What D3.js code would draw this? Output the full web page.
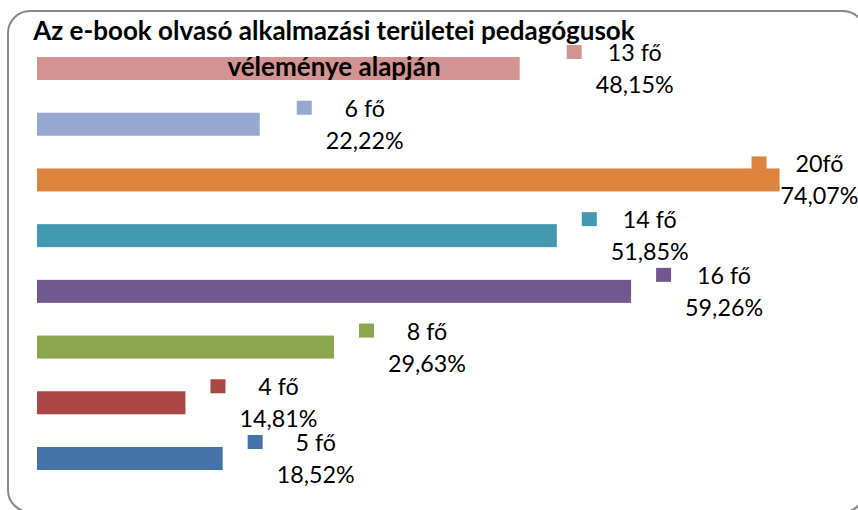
<!DOCTYPE html>
<html>
<head>
<meta charset="utf-8">
<script src="https://cdn.jsdelivr.net/npm/d3@7"></script>
<style>
  html, body { margin: 0; padding: 0; background: #ffffff; }
  svg { display: block; }
  text { font-family: Lato, "Open Sans", sans-serif; fill: #000; }
</style>
</head>
<body>
<svg id="chart" width="858" height="510"></svg>
<script>
// ---- data ----
const categories = ["k1", "k2", "k3", "k4", "k5", "k6", "k7", "k8"];
const counts = [13, 6, 20, 14, 16, 8, 4, 5];
const percents = [48.15, 22.22, 74.07, 51.85, 59.26, 29.63, 14.81, 18.52];
const countLabels = ["13 fő", "6 fő", "20fő", "14 fő", "16 fő", "8 fő", "4 fő", "5 fő"];
const colors = ["#D39391", "#95A9D0", "#DC843F", "#4399B0", "#71588F", "#8CA64E", "#AA4643", "#4572A7"];
const titleLines = ["Az e-book olvasó alkalmazási területei pedagógusok", "véleménye alapján"];

// ---- layout ----
const W = 858, H = 510;
const labelNudge = [22, 12, -53, 0, 0, 0, 0, 0]; // manual label shifts (px)
const svg = d3.select("#chart");

svg.append("rect")
  .attr("x", 8).attr("y", 11)
  .attr("width", 857).attr("height", 501)
  .attr("rx", 22).attr("ry", 22)
  .attr("fill", "#fff")
  .attr("stroke", "#888888")
  .attr("stroke-width", 2);

const x = d3.scaleLinear().domain([0, 80]).range([37, 839]);
const y = d3.scaleBand().domain(categories).range([57, 470]).paddingInner(0.587).paddingOuter(0);

const rows = categories.map((c, i) => ({
  cat: c, count: counts[i], pct: percents[i], lab: countLabels[i], color: colors[i], nudge: labelNudge[i]
}));

svg.append("g").selectAll("rect")
  .data(rows).join("rect")
  .attr("x", x(0))
  .attr("y", d => y(d.cat))
  .attr("width", d => x(d.pct) - x(0))
  .attr("height", y.bandwidth())
  .attr("fill", d => d.color);

// font fitting helper
function fitSize(str, weight, targetW) {
  const t = svg.append("text").attr("font-size", 100).attr("font-weight", weight).text(str);
  const w = t.node().getComputedTextLength();
  t.remove();
  return 100 * targetW / w;
}
const labelSize = fitSize("74,07%", "normal", 78);
const titleSize = fitSize(titleLines[0], "bold", 602);

const fmt = v => d3.format(".2f")(v).replace(".", ",") + "%";

const lab = svg.append("g").selectAll("g")
  .data(rows).join("g")
  .attr("transform", d => `translate(${x(d.pct) + 25 + d.nudge},${y(d.cat)})`);

lab.append("rect")
  .attr("x", 0).attr("y", -12)
  .attr("width", 15).attr("height", 14)
  .attr("fill", d => d.color);

lab.append("text")
  .attr("x", 68).attr("y", 4)
  .attr("text-anchor", "middle")
  .attr("font-size", labelSize)
  .text(d => d.lab);

lab.append("text")
  .attr("x", 68).attr("y", 36)
  .attr("text-anchor", "middle")
  .attr("font-size", labelSize)
  .text(d => fmt(d.pct));

// title
const title = svg.append("text")
  .attr("text-anchor", "middle")
  .attr("font-weight", "bold")
  .attr("font-size", titleSize);
title.append("tspan").attr("x", 334).attr("y", 40).text(titleLines[0]);
title.append("tspan").attr("x", 334).attr("y", 76).text(titleLines[1]);
</script>
</body>
</html>
